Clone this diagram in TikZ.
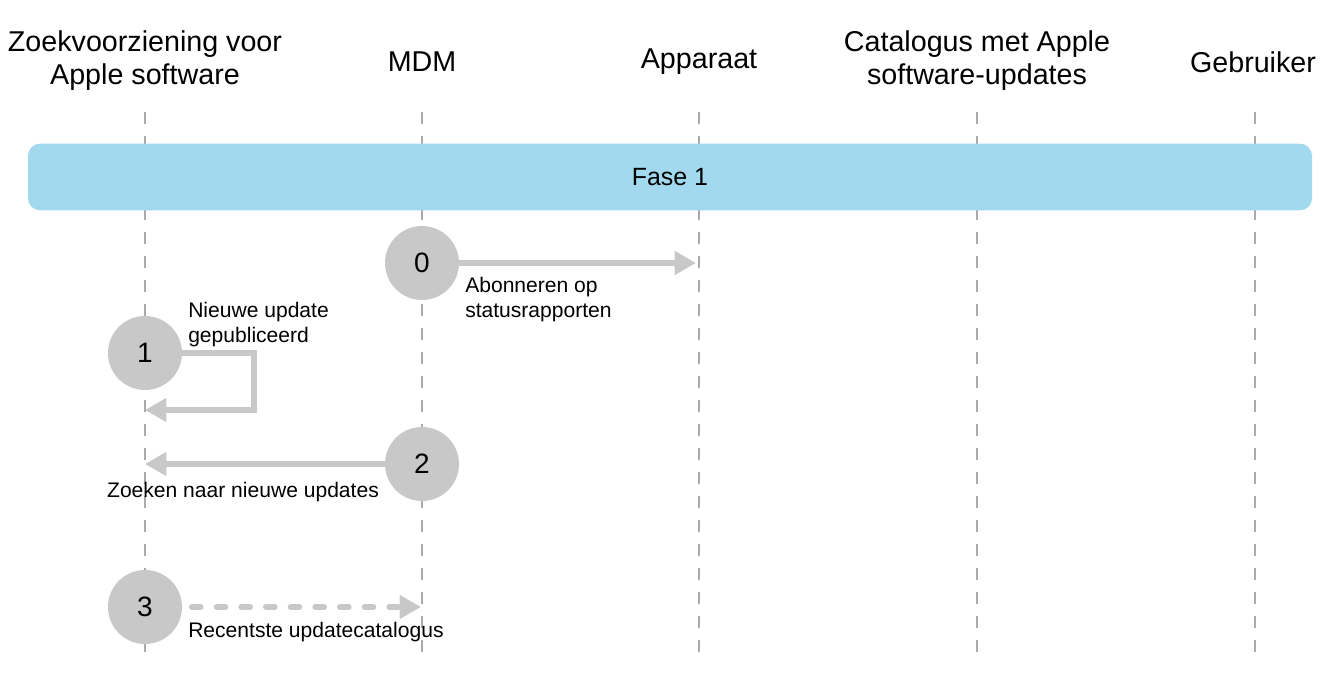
\documentclass[tikz,border=0pt]{standalone}
\usepackage{fontspec}
\setmainfont{Liberation Sans}
\usetikzlibrary{arrows.meta}
\definecolor{lifeline}{HTML}{AAAAAA}
\definecolor{stepgray}{HTML}{C8C8C8}
\definecolor{phaseblue}{HTML}{A3D9EF}
\tikzset{
  header/.style={font=\fontsize{21.5}{24.5}\selectfont, align=center, text=black},
  lifelinestyle/.style={draw=lifeline, line width=1pt, dash pattern=on 9pt off 9pt},
  stepcircle/.style={circle, fill=stepgray, minimum size=55.5pt, inner sep=0pt, font=\fontsize{21}{24}\selectfont},
  msg/.style={draw=stepgray, line width=4.5pt, -{Triangle[length=16pt,width=17pt]}},
  msglabel/.style={font=\fontsize{15.8}{19}\selectfont, align=left, inner sep=0pt},
}
\begin{document}
\begin{tikzpicture}[x=0.75pt,y=-0.75pt]
\useasboundingbox (0,0) rectangle (1335,673);
% headers
\node[header] (h1) at (145,60.5) {Zoekvoorziening voor\\Apple software};
\node[header] (h2) at (422,62) {MDM};
\node[header] (h3) at (699,62) {Apparaat};
\node[header] (h4) at (977,60.5) {Catalogus met Apple\\software-updates};
\node[header] (h5) at (1253,62) {Gebruiker};
% lifelines
\foreach \x/\n in {145/a,422/b,699/c,977/d,1255/e}{
  \coordinate (\n top) at (\x,112);
  \coordinate (\n bot) at (\x,652);
  \draw[lifelinestyle] (\n top) -- (\n bot);
}
% phase band
\node[fill=phaseblue, rounded corners=9pt, minimum width=963pt, minimum height=50pt, inner sep=0pt,
      font=\fontsize{18.7}{20}\selectfont] (phase) at (670,177) {Fase 1};
% steps
\node[stepcircle] (s0) at (422,263) {0};
\node[stepcircle] (s1) at (145,353) {1};
\node[stepcircle] (s2) at (422,464) {2};
\node[stepcircle] (s3) at (145,607) {3};
% arrows
\coordinate (t0) at (696,263);
\draw[msg] (s0.east) -- (t0);
\coordinate (c1a) at (254,353);
\coordinate (c1b) at (254,410);
\coordinate (t1) at (145,410);
\draw[msg] (s1.east) -- (c1a) -- (c1b) -- (t1);
\coordinate (t2) at (145,464);
\draw[msg] (s2.west) -- (t2);
\coordinate (t3a) at (192,607);
\coordinate (t3) at (421,607);
\draw[msg, line cap=round, dash pattern=on 6.5pt off 12pt] (t3a) -- (t3);
% labels
\node[msglabel, anchor=north west] (l0) at (465,277) {Abonneren op\\statusrapporten};
\node[msglabel, anchor=north west] (l1) at (188,302) {Nieuwe update\\gepubliceerd};
\node[msglabel, anchor=north] (l2) at (243,482) {Zoeken naar nieuwe updates};
\node[msglabel, anchor=north west] (l3) at (188,622) {Recentste updatecatalogus};
\end{tikzpicture}
\end{document}
